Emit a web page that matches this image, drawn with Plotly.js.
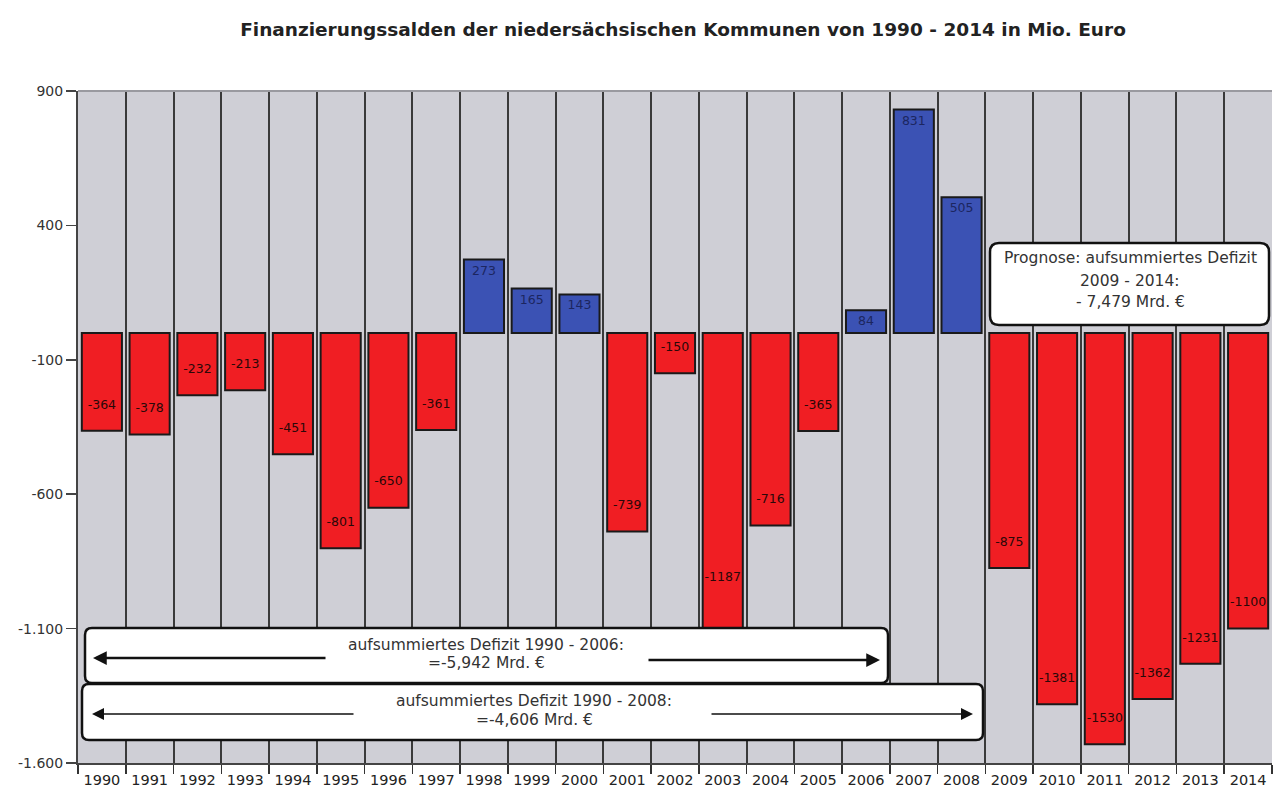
<!DOCTYPE html>
<html>
<head>
<meta charset="utf-8">
<script src="https://cdn.plot.ly/plotly-3.0.1.min.js"></script>
<style>html,body{margin:0;padding:0;background:#fff;}#chart{width:1282px;height:794px;}</style>
</head>
<body>
<div id="chart"></div>
<script>
// ---- data ----
const years = ["1990","1991","1992","1993","1994","1995","1996","1997","1998","1999","2000","2001","2002","2003","2004","2005","2006","2007","2008","2009","2010","2011","2012","2013","2014"];
const saldo = [-364,-378,-232,-213,-451,-801,-650,-361,273,165,143,-739,-150,-1187,-716,-365,84,831,505,-875,-1381,-1530,-1362,-1231,-1100];
const yTicks = [900,400,-100,-600,-1100,-1600];
const box1Lines = ["aufsummiertes Defizit 1990 - 2006:", "=-5,942 Mrd. €"];
const box2Lines = ["aufsummiertes Defizit 1990 - 2008:", "=-4,606 Mrd. €"];
const box3Lines = ["Prognose: aufsummiertes Defizit", "2009 - 2014:", "- 7,479 Mrd. €"];

// ---- layout helpers (pixel -> paper) ----
const W = 1282, H = 794;
const M = {l: 78, r: 10, t: 91, b: 31};
const PW = W - M.l - M.r, PH = H - M.t - M.b;
const px = x => (x - M.l) / PW;
const py = y => (H - M.b - y) / PH;
function roundRect(x0, y0, x1, y1, r) {
  const rx = r / PW, ry = r / PH;
  const X0 = px(x0), X1 = px(x1), Y0 = py(y0), Y1 = py(y1);
  return `M${X0 + rx},${Y0} L${X1 - rx},${Y0} Q${X1},${Y0} ${X1},${Y0 - ry} L${X1},${Y1 + ry} Q${X1},${Y1} ${X1 - rx},${Y1} L${X0 + rx},${Y1} Q${X0},${Y1} ${X0},${Y1 + ry} L${X0},${Y0 - ry} Q${X0},${Y0} ${X0 + rx},${Y0} Z`;
}

const FONT = "DejaVu Sans, Verdana, sans-serif";
const barColors = saldo.map(v => v >= 0 ? "#3b52b4" : "#f01e23");
// label sits a little inside the bar end; the 2003 label is lifted above the summary box
const barText = saldo.map((v, i) => {
  if (v >= 0) return String(v);
  const pad = years[i] === "2003" ? 4 : 1;
  return String(v) + "<br>&nbsp;".repeat(pad);
});

const trace = {
  type: "bar",
  x: years,
  y: saldo,
  marker: {color: barColors, line: {color: "#1a1a1a", width: 2}},
  text: barText,
  textposition: "inside",
  insidetextanchor: "end",
  constraintext: "none",
  textangle: 0,
  textfont: {family: FONT, size: 12.5, color: saldo.map(v => v >= 0 ? "#1c2660" : "#2a0808")},
  hoverinfo: "x+y"
};

const shapes = [
  {type: "line", xref: "paper", yref: "paper", x0: 0, x1: 1, y0: 1, y1: 1, line: {color: "#9a9aa0", width: 2}},
  {type: "path", xref: "paper", yref: "paper", path: roundRect(85, 628, 888, 683, 7), fillcolor: "#ffffff", line: {color: "#111", width: 2.5}, layer: "above"},
  {type: "path", xref: "paper", yref: "paper", path: roundRect(82, 684, 983, 740, 7), fillcolor: "#ffffff", line: {color: "#111", width: 2.5}, layer: "above"},
  {type: "path", xref: "paper", yref: "paper", path: roundRect(990, 243, 1269, 325, 9), fillcolor: "#ffffff", line: {color: "#111", width: 2.5}, layer: "above"}
];

const tf = {family: FONT, size: 15.5, color: "#333"};
function label(text, xc, yc) {
  return {xref: "paper", yref: "paper", x: px(xc), y: py(yc), xanchor: "center", yanchor: "middle",
    text: text, showarrow: false, font: tf};
}
function arrow(xHead, xTail, y, w) {
  return {xref: "paper", yref: "paper", x: px(xHead), y: py(y), axref: "pixel", ayref: "pixel",
    ax: xTail - xHead, ay: 0, text: "", showarrow: true, arrowhead: 2, arrowsize: w > 2 ? 1.1 : 1.6, arrowwidth: w, arrowcolor: "#111"};
}
const annotations = [
  label(box1Lines[0], 486, 645), label(box1Lines[1], 486, 663),
  label(box2Lines[0], 534, 701), label(box2Lines[1], 534, 720),
  label(box3Lines[0], 1130, 258), label(box3Lines[1], 1130, 281), label(box3Lines[2], 1130, 302),
  arrow(93, 327, 658, 2.5),
  arrow(880, 647, 660, 2.5),
  arrow(92, 355, 714, 1.5),
  arrow(973, 710, 714, 1.5)
];

const layout = {
  width: W, height: H,
  margin: M,
  paper_bgcolor: "#ffffff",
  plot_bgcolor: "#cfcfd6",
  showlegend: false,
  bargap: 0.16,
  title: {
    text: "<b>Finanzierungssalden der niedersächsischen Kommunen von 1990 - 2014 in Mio. Euro</b>",
    font: {family: FONT, size: 18.5, color: "#222"},
    x: 683 / W, xanchor: "center", xref: "container",
    y: 1 - 30 / H, yanchor: "middle", yref: "container"
  },
  xaxis: {
    type: "category",
    tickson: "boundaries",
    showgrid: true, gridcolor: "#3a3a3a", gridwidth: 2,
    ticks: "outside", ticklen: 9, tickcolor: "#333", tickwidth: 1.5,
    ticklabelstandoff: 3,
    showline: true, linecolor: "#444", linewidth: 2,
    tickfont: {family: FONT, size: 14.5, color: "#222"},
    fixedrange: true
  },
  yaxis: {
    range: [-1600, 900],
    tickvals: yTicks,
    ticktext: yTicks.map(v => v.toLocaleString("de-DE")),
    showgrid: false, zeroline: false,
    ticks: "outside", ticklen: 10, tickcolor: "#444", tickwidth: 1.5,
    showline: true, linecolor: "#444", linewidth: 2,
    tickfont: {family: FONT, size: 14, color: "#333"},
    fixedrange: true
  },
  shapes: shapes,
  annotations: annotations
};

Plotly.newPlot("chart", [trace], layout, {displayModeBar: false, staticPlot: true});
</script>
</body>
</html>
